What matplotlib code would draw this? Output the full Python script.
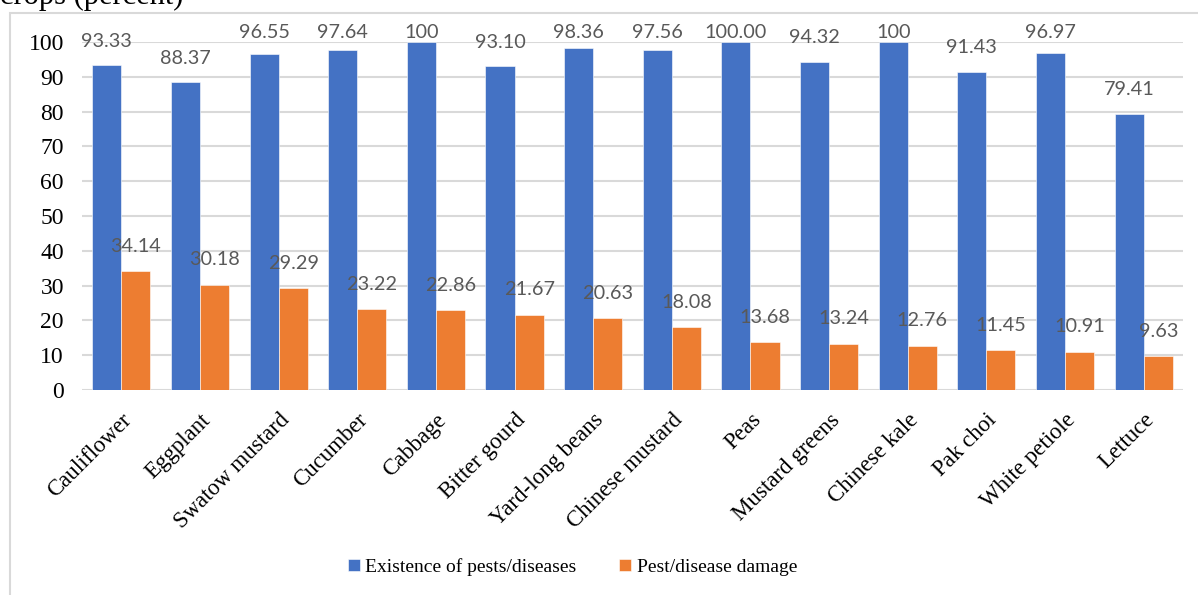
import matplotlib

matplotlib.use("Agg")
import matplotlib.pyplot as plt
import matplotlib.transforms as mtransforms
import numpy as np
from matplotlib.patches import Rectangle

crops = ["Cauliflower", "Eggplant", "Swatow mustard", "Cucumber", "Cabbage",
         "Bitter gourd", "Yard-long beans", "Chinese mustard", "Peas",
         "Mustard greens", "Chinese kale", "Pak choi", "White petiole", "Lettuce"]
existence = [93.33, 88.37, 96.55, 97.64, 100, 93.10, 98.36, 97.56, 100.00,
             94.32, 100, 91.43, 96.97, 79.41]
existence_labels = ["93.33", "88.37", "96.55", "97.64", "100", "93.10", "98.36",
                    "97.56", "100.00", "94.32", "100", "91.43", "96.97", "79.41"]
damage = [34.14, 30.18, 29.29, 23.22, 22.86, 21.67, 20.63, 18.08, 13.68,
          13.24, 12.76, 11.45, 10.91, 9.63]
damage_labels = ["34.14", "30.18", "29.29", "23.22", "22.86", "21.67", "20.63",
                 "18.08", "13.68", "13.24", "12.76", "11.45", "10.91", "9.63"]

BLUE = "#4472C4"
ORANGE = "#ED7D31"
GRID = "#D9D9D9"
LABEL_GRAY = "#595959"
SERIF = "Liberation Serif"
SANS = "Lato"

fig = plt.figure(figsize=(11.98, 5.95), dpi=100)

# chart frame and the tail end of the caption above it
fig.patches.append(Rectangle((10 / 1198, -0.05), 1.1, 1 - 13 / 595 + 0.05,
                             transform=fig.transFigure, fill=False,
                             edgecolor=GRID, linewidth=1.5))
fig.text(0.0, 1 - 4 / 595, "crops (percent)", family=SERIF, fontsize=22,
         va="baseline", ha="left", color="black")

ax = fig.add_axes([82 / 1198, 1 - 390 / 595, (1183 - 82) / 1198, (390 - 42) / 595])

x = np.arange(len(crops))
w = 0.37
ax.bar(x - w / 2, existence, width=w, color=BLUE, edgecolor="white",
       linewidth=0.4, label="Existence of pests/diseases", zorder=3)
ax.bar(x + w / 2, damage, width=w, color=ORANGE, edgecolor="white",
       linewidth=0.4, label="Pest/disease damage", zorder=3)

# value labels sit above the bars, kept inside the top of the plot area
for xi, v, s in zip(x, existence, existence_labels):
    ax.text(xi - w / 2, min(v + 6.9, 102.6), s, ha="center", va="center",
            family=SANS, fontsize=14.3, color=LABEL_GRAY, clip_on=False, zorder=4)
for xi, v, s in zip(x, damage, damage_labels):
    ax.text(xi + w / 2, v + 7.2, s, ha="center", va="center",
            family=SANS, fontsize=14.3, color=LABEL_GRAY, clip_on=False, zorder=4)

ax.set_xlim(-0.5, len(crops) - 0.5)
ax.set_ylim(0, 100)
ax.set_yticks(np.arange(0, 101, 10))
ax.set_xticks(x)
ax.set_xticklabels(crops, rotation=45, ha="right", va="top",
                   rotation_mode="anchor", family=SERIF, fontsize=16.5)
shift = mtransforms.ScaledTranslation(-6 / 100, 0, fig.dpi_scale_trans)
for t in ax.get_xticklabels():
    t.set_transform(t.get_transform() + shift)
for t in ax.get_yticklabels():
    t.set_family(SERIF)
    t.set_fontsize(17)
ax.tick_params(axis="y", length=0, pad=13)
ax.tick_params(axis="x", length=0, pad=14)
ax.grid(axis="y", color=GRID, linewidth=1.5, zorder=0)
for side in ["top", "right", "left", "bottom"]:
    ax.spines[side].set_visible(False)

fig.legend(loc="center", bbox_to_anchor=(0.478, 1 - 567 / 595), ncol=2,
           frameon=False, prop={"family": SERIF, "size": 14},
           handlelength=0.6, handleheight=0.6, handletextpad=0.3,
           columnspacing=2.2)

fig.savefig("out.png", dpi=100)
